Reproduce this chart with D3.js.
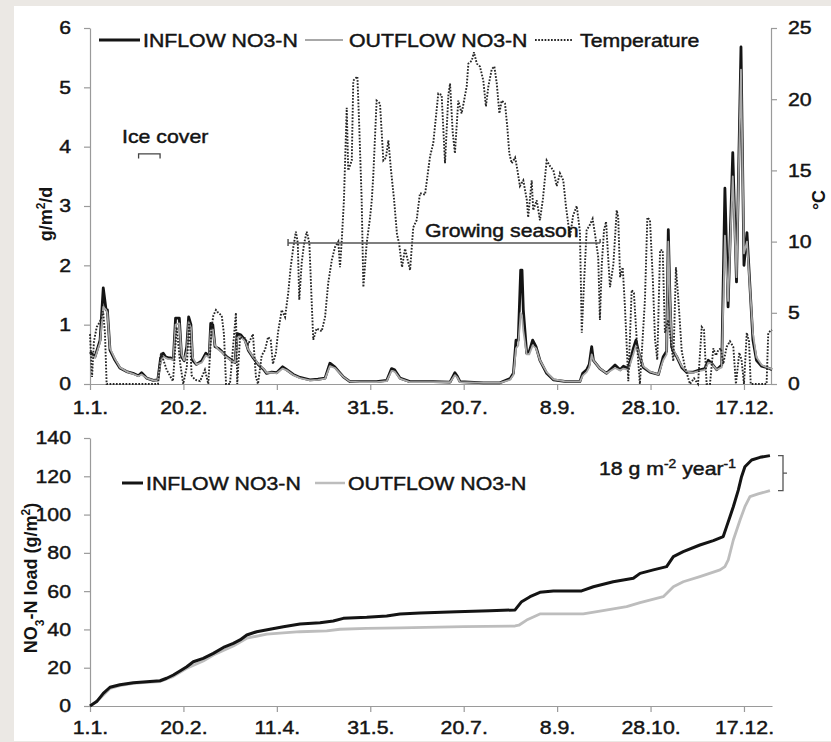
<!DOCTYPE html>
<html>
<head>
<meta charset="utf-8">
<script src="https://cdn.jsdelivr.net/npm/d3@7"></script>
<style>
  html, body { margin: 0; padding: 0; background: #ebe8e4; }
  svg { display: block; font-family: "Liberation Sans", Arial, sans-serif; }
</style>
</head>
<body>
<svg id="chart" width="831" height="742"></svg>
<script>
// ---- x-axis ticks (day of year, 50-day steps) ----
const tickDays = [0, 50, 100, 150, 200, 250, 300, 350];
const tickLabels = ["1.1.", "20.2.", "11.4.", "31.5.", "20.7.", "8.9.", "28.10.", "17.12."];

// ---- daily NO3-N flux, g/m2/d (day of year) ----
const flowDays = [0,2.7,5.4,7.1,8.6,9.3,10.7,13.4,16.0,19.6,
  23.0,25.9,27.6,30.3,33.9,36.3,37.8,39.2,40.4,41.9,
  43.2,44.6,45.8,47.8,49.0,50.4,51.8,52.8,54.0,54.9,
  57.0,59.8,62.0,63.8,64.6,65.7,66.9,68.7,70.5,73.1,
  75.8,77.6,78.8,80.6,83.0,84.7,87.4,90.0,92.8,94.5,
  97.2,99.9,103.1,105.3,108.8,112.4,117.7,122.0,125.8,128.4,
  131.0,135.6,139.1,144.5,148.0,153.4,158.8,161.4,163.0,165.9,
  171.2,183.7,192.7,195.3,196.6,198.0,210.5,219.4,224.8,226.6,
  228.0,229.2,230.5,231.2,231.9,233.7,235.1,236.9,238.7,240.8,
  244.4,248.0,255.1,262.2,263.7,265.8,267.2,268.5,269.4,272.9,
  276.5,281.0,283.7,285.5,288.1,290.8,292.2,293.5,296.1,299.7,
  304.2,306.8,308.6,309.5,310.4,311.3,312.2,314.0,316.7,319.3,
  322.9,326.4,329.1,330.9,332.7,335.4,338.1,339.8,341.5,344.0,
  346.0,348.4,350.0,351.6,354.8,356.7,359.5,363.0,365];
const inflowDaily = [0.54,0.46,0.74,1.62,1.25,1.25,0.57,0.40,0.27,0.21,
  0.18,0.14,0.19,0.10,0.06,0.07,0.44,0.52,0.46,0.44,
  0.44,0.41,1.11,1.11,0.46,0.39,0.63,1.13,1.00,0.40,
  0.33,0.39,0.52,0.46,1.02,1.00,0.63,0.60,0.55,0.46,
  0.40,0.36,0.85,0.83,0.74,0.57,0.44,0.33,0.25,0.18,
  0.20,0.19,0.29,0.24,0.16,0.11,0.07,0.08,0.10,0.35,
  0.29,0.12,0.04,0.04,0.04,0.04,0.06,0.26,0.24,0.10,
  0.04,0.04,0.03,0.19,0.13,0.04,0.02,0.02,0.09,0.18,
  0.74,0.74,1.92,1.92,1.25,0.52,0.55,0.74,0.63,0.40,
  0.18,0.07,0.04,0.04,0.18,0.24,0.33,0.63,0.40,0.26,
  0.18,0.32,0.24,0.30,0.26,0.60,0.74,0.55,0.28,0.20,
  0.16,0.46,0.55,2.60,1.42,0.63,0.55,0.46,0.28,0.20,
  0.20,0.24,0.26,0.40,0.35,0.24,0.32,3.30,1.30,3.90,
  1.72,5.68,2.00,2.55,0.74,0.40,0.30,0.27,0.24];
const outflowDaily = [0.50,0.44,0.70,1.30,1.25,1.20,0.60,0.42,0.28,0.21,
  0.17,0.13,0.16,0.10,0.06,0.06,0.38,0.47,0.44,0.42,
  0.42,0.40,1.00,1.02,0.50,0.40,0.55,1.05,0.95,0.45,
  0.33,0.36,0.48,0.45,0.90,0.92,0.65,0.58,0.54,0.45,
  0.39,0.36,0.78,0.80,0.72,0.58,0.45,0.34,0.26,0.19,
  0.19,0.18,0.26,0.23,0.15,0.10,0.06,0.07,0.09,0.30,
  0.27,0.12,0.04,0.03,0.03,0.03,0.05,0.22,0.21,0.09,
  0.03,0.03,0.03,0.15,0.11,0.03,0.02,0.02,0.07,0.15,
  0.60,0.65,1.20,1.15,0.90,0.50,0.50,0.65,0.60,0.40,
  0.20,0.08,0.04,0.04,0.14,0.20,0.28,0.50,0.40,0.26,
  0.18,0.27,0.23,0.26,0.24,0.50,0.65,0.55,0.30,0.21,
  0.16,0.40,0.50,2.40,1.40,0.70,0.58,0.47,0.30,0.21,
  0.19,0.22,0.24,0.36,0.34,0.24,0.28,2.50,1.40,3.50,
  1.80,5.30,2.20,2.40,0.85,0.45,0.32,0.27,0.25];

// ---- water temperature, degrees C ----
const tempDays = [0,1.1,2.1,3.6,5.4,7.0,8.0,8.9,10.7,36.4,
  38.0,41.0,44.4,46.4,48.2,49.9,51.8,53.1,54.4,56.2,
  58.9,61.5,63.3,65.1,66.0,67.4,68.7,70.5,71.7,72.8,
  74.9,78.1,78.8,80.3,83.0,84.7,87.2,88.8,89.9,91.9,
  93.7,95.3,96.7,97.9,99.5,100.6,102.6,104.4,106.1,107.4,
  108.8,110.2,111.2,112.0,113.3,114.5,116.0,117.4,118.6,119.5,
  121.3,124.0,125.8,127.5,129.4,131.1,132.9,133.8,134.7,135.9,
  137.4,138.2,140.1,140.9,143.1,144.1,145.4,146.3,148.1,149.9,
  150.8,151.6,153.4,155.2,157.0,158.4,159.7,161.1,162.7,164.3,
  165.4,167.0,168.6,171.3,173.0,174.8,176.6,179.3,182.0,183.7,
  186.4,188.2,190.0,191.8,192.7,194.1,195.3,197.1,198.9,200.2,
  201.6,202.5,204.3,205.5,207.0,208.7,210.5,211.9,213.2,215.0,
  216.4,217.7,219.1,220.3,222.1,223.3,224.4,225.7,227.5,228.4,
  230.1,231.9,233.8,234.5,236.4,237.2,239.1,240.8,242.4,244.4,
  246.2,248.0,249.8,251.5,253.3,254.7,256.9,258.5,260.5,262.2,
  263.2,264.4,265.8,267.6,269.0,270.3,272.0,272.9,273.9,275.1,
  276.2,277.4,278.3,280.1,281.9,282.7,283.7,285.1,286.3,288.1,
  289.9,291.1,292.6,294.3,297.0,298.3,299.7,301.2,302.4,303.6,
  305.1,306.5,307.7,309.5,310.8,312.2,313.6,314.9,316.7,318.4,
  321.1,323.3,325.4,327.4,328.6,330.0,331.8,333.6,335.0,336.3,
  337.7,338.9,340.7,342.5,344.3,345.7,347.5,348.7,350.0,351.5,
  352.7,353.6,362.1,363.0,365];
const tempValues = [3.5,0.5,3.0,4.0,4.4,5.1,3.6,0,0,0,
  2.2,1.0,0.2,4.0,1.5,0,1.2,4.4,0.6,0.3,
  0.2,1.0,0,4.0,4.8,5.2,5.0,4.8,3.5,0,
  0,5.0,0,3.3,3.2,2.8,3.5,0.5,0,2.0,
  2.4,3.3,3.1,1.4,2.2,3.6,5.2,4.7,6.4,8.2,
  9.6,10.7,9.9,5.9,8.5,9.8,10.7,9.9,5.9,3.1,
  3.9,3.7,4.7,7.1,8.7,9.6,10.0,8.2,10.0,12.9,
  19.4,15.0,15.7,21.3,21.6,18.1,12.9,6.8,9.9,11.7,
  12.9,14.6,19.9,19.7,15.7,15.9,17.1,15.0,13.0,10.5,
  9.9,8.2,9.5,8.0,11.0,11.5,13.4,13.3,16.0,16.9,
  20.4,20.3,15.5,20.3,21.1,17.7,16.2,19.9,19.0,19.9,
  20.9,22.5,22.7,23.3,22.5,22.3,21.3,19.5,20.9,22.1,
  22.3,21.1,19.0,19.9,19.7,18.1,16.2,15.5,15.9,15.3,
  13.9,14.3,12.9,11.7,14.3,12.2,12.9,11.5,13.0,15.7,
  15.3,15.0,13.9,14.8,14.3,12.5,10.3,11.8,12.5,10.7,
  3.6,7.1,10.8,11.2,11.6,10.5,8.9,4.5,8.4,10.8,
  11.4,8.7,6.8,8.4,12.2,11.7,7.5,8.2,5.4,0.2,
  6.6,6.4,3.1,0,5.9,11.7,11.5,7.4,3.1,1.7,
  9.4,9.4,3.6,4.5,3.1,1.6,8.2,5.9,2.3,1.2,
  0,0.4,0,4.0,3.8,0,0,2.5,2.0,2.4,
  2.5,1.4,2.6,3.0,2.6,0,2.2,1.7,0,3.6,
  3.0,0,0,3.6,3.8];

// ---- cumulative NO3-N load, g/m2 ----
const inLoadDays = [0,3.6,7.1,10.7,16,23.2,30.3,37.5,41,44.6,
  49,51.8,55.3,60.6,66,71.4,76.7,80.3,83.9,89.2,
  96.3,103.5,112.4,123.1,130.2,135.6,148.1,158.8,165.9,176.6,
  196.2,214,227.5,231,235.5,240.8,248,263.1,269.4,280,
  290.8,294.4,301.5,308.6,312.2,317.5,326.4,333.6,338.9,340.7,
  342.5,344.3,347,348.7,350.5,354.1,358.6,363.9];
const inLoad = [0,2.3,6.6,9.8,11.1,12.2,12.7,13.2,14.5,16.2,
  18.8,20.5,23.1,24.9,27.5,30.6,32.7,34.5,37.1,38.8,
  40.1,41.4,42.8,43.5,44.4,45.8,46.3,47.0,48.1,48.6,
  49.3,49.7,50.2,54.5,57.1,59.4,60.1,60.1,62.3,64.9,
  66.7,69.3,71.1,72.8,78.0,80.6,84.1,86.4,88.5,93.7,
  98.9,104.1,112.9,119.8,125.0,128.5,129.9,130.8];
const outLoadDays = [0,5.4,10.7,16,23.2,30.3,37.5,44.6,51.8,60.6,
  66,76.7,83.9,94.6,112.4,126.7,133.8,148.1,165.9,200,
  227.5,229.5,233.7,240.8,264,272.9,287.2,294.4,306.8,312.2,
  317.5,326.4,337.2,339.8,341.6,344.3,347.9,350.5,353.2,357.6,363.9];
const outLoad = [0,4.0,9.2,10.6,11.8,12.3,12.8,15.5,19.7,23.5,
  26.6,31.3,35.4,37.6,38.8,39.2,40.1,40.6,40.8,41.5,
  41.8,42.2,44.9,48.1,48.1,49.6,51.9,54.0,57.1,62.3,
  64.9,67.6,71.1,72.8,76.3,86.7,97.2,104.1,109.4,110.8,112.5];

// ---- annotation spans ----
const iceCover = [26, 37.5];         // days
const growingSeason = [106, 273];    // days, drawn at 10 degrees C
const growingTemp = 9.9;

// ---------------------------------------------------------------
const svg = d3.select("#chart");
svg.append("rect").attr("x", 14).attr("y", 6).attr("width", 817).attr("height", 735).attr("fill", "#ffffff");

const AXIS = "#9a9a9a", INK = "#141414";
const OUT_TOP = "#a8a8a8", OUT_BOT = "#bdbdbd";
const TEMP = "#262626";
const x = d3.scaleLinear().domain([0, 365]).range([90, 772]);
const yN = d3.scaleLinear().domain([0, 6]).range([384, 28]);
const yT = d3.scaleLinear().domain([0, 25]).range([384, 28]);
const yL = d3.scaleLinear().domain([0, 140]).range([706, 438]);

function styleAxis(g) {
  g.attr("font-family", null).attr("font-size", null);
  g.select(".domain").attr("stroke", AXIS).attr("stroke-width", 1.2);
  g.selectAll(".tick line").attr("stroke", AXIS).attr("stroke-width", 1.2);
  g.selectAll(".tick text").attr("fill", INK).attr("class", "lbl").style("font-size", "18.5px");
}

// ---------------- upper panel ----------------
svg.append("g").attr("transform", "translate(0,384)")
  .call(d3.axisBottom(x).tickValues(tickDays).tickFormat((d, i) => tickLabels[i])
    .tickSize(6).tickSizeOuter(0).tickPadding(11))
  .call(styleAxis);
svg.append("g").attr("transform", "translate(90,0)")
  .call(d3.axisLeft(yN).tickValues([0, 1, 2, 3, 4, 5, 6]).tickFormat(d3.format("d"))
    .tickSize(6).tickSizeOuter(0).tickPadding(13))
  .call(styleAxis);
svg.append("g").attr("transform", "translate(771,0)")
  .call(d3.axisRight(yT).tickValues([0, 5, 10, 15, 20, 25]).tickFormat(d3.format("d"))
    .tickSize(6).tickSizeOuter(0).tickPadding(11))
  .call(styleAxis);

const flowIn = d3.zip(flowDays, inflowDaily);
const flowOut = d3.zip(flowDays, outflowDaily);
const temps = d3.zip(tempDays, tempValues);

const lineN = d3.line().x(d => x(d[0])).y(d => yN(d[1]));
const lineT = d3.line().x(d => x(d[0])).y(d => yT(d[1]));

svg.append("path").datum(flowIn).attr("d", lineN).attr("fill", "none")
  .attr("stroke", INK).attr("stroke-width", 2.8).attr("stroke-linejoin", "round");
svg.append("path").datum(flowOut).attr("d", lineN).attr("fill", "none")
  .attr("stroke", OUT_TOP).attr("stroke-width", 1.8).attr("stroke-linejoin", "round");
svg.append("path").datum(temps).attr("d", lineT).attr("fill", "none")
  .attr("stroke", TEMP).attr("stroke-width", 1.9).attr("stroke-dasharray", "1.7,1.5");

// legend, upper panel
const legTop = svg.append("g");
legTop.append("line").attr("x1", 99).attr("x2", 140).attr("y1", 40).attr("y2", 40)
  .attr("stroke", INK).attr("stroke-width", 3);
legTop.append("text").attr("x", 143).attr("y", 40).attr("dy", "0.36em").text("INFLOW NO3-N");
legTop.append("line").attr("x1", 305).attr("x2", 343).attr("y1", 40).attr("y2", 40)
  .attr("stroke", OUT_TOP).attr("stroke-width", 2);
legTop.append("text").attr("x", 349).attr("y", 40).attr("dy", "0.36em").text("OUTFLOW NO3-N");
legTop.append("line").attr("x1", 535).attr("x2", 573).attr("y1", 40).attr("y2", 40)
  .attr("stroke", TEMP).attr("stroke-width", 1.9).attr("stroke-dasharray", "1.7,1.5");
legTop.append("text").attr("x", 580).attr("y", 40).attr("dy", "0.36em").text("Temperature");
legTop.selectAll("text").attr("fill", INK).attr("class", "lbl").style("font-size", "18.5px");

// ice cover bracket
svg.append("text").attr("class", "lbl").attr("x", 122).attr("y", 136).attr("dy", "0.36em")
  .attr("fill", INK).style("font-size", "18.5px").text("Ice cover");
svg.append("path")
  .attr("d", `M${x(iceCover[0])},${yN(3.8)}V${yN(3.88)}H${x(iceCover[1])}V${yN(3.8)}`)
  .attr("fill", "none").attr("stroke", "#444").attr("stroke-width", 1.3);

// growing season bar
const gy = yT(growingTemp);
svg.append("path")
  .attr("d", `M${x(growingSeason[0])},${gy - 4}V${gy + 3}M${x(growingSeason[0])},${gy}H${x(growingSeason[1])}M${x(growingSeason[1])},${gy - 4}V${gy}`)
  .attr("fill", "none").attr("stroke", "#555").attr("stroke-width", 1.5);
svg.append("text").attr("class", "lbl").attr("x", 425).attr("y", 230).attr("dy", "0.36em")
  .attr("fill", INK).style("font-size", "18.5px").text("Growing season");

// axis titles, upper panel
svg.append("text").attr("transform", "translate(52,214) rotate(-90)")
  .attr("text-anchor", "middle").attr("font-weight", "bold").attr("fill", INK)
  .style("font-size", "18px")
  .call(t => {
    t.append("tspan").text("g/m");
    t.append("tspan").attr("baseline-shift", "super").style("font-size", "12px").text("2");
    t.append("tspan").text("/d");
  });
svg.append("text").attr("transform", "translate(825,200) rotate(-90)")
  .attr("text-anchor", "middle").attr("font-weight", "bold").attr("fill", INK)
  .style("font-size", "18px").text("°C");

// ---------------- lower panel ----------------
svg.append("g").attr("transform", "translate(0,706)")
  .call(d3.axisBottom(x).tickValues(tickDays).tickFormat((d, i) => tickLabels[i])
    .tickSize(6).tickSizeOuter(0).tickPadding(9))
  .call(styleAxis);
svg.append("g").attr("transform", "translate(90,0)")
  .call(d3.axisLeft(yL).tickValues(d3.range(0, 141, 20)).tickFormat(d3.format("d"))
    .tickSize(6).tickSizeOuter(0).tickPadding(13))
  .call(styleAxis);

const lineL = d3.line().x(d => x(d[0])).y(d => yL(d[1]));
svg.append("path").datum(d3.zip(outLoadDays, outLoad)).attr("d", lineL).attr("fill", "none")
  .attr("stroke", OUT_BOT).attr("stroke-width", 2.8).attr("stroke-linejoin", "round");
svg.append("path").datum(d3.zip(inLoadDays, inLoad)).attr("d", lineL).attr("fill", "none")
  .attr("stroke", INK).attr("stroke-width", 3).attr("stroke-linejoin", "round");

// legend, lower panel
const legBot = svg.append("g");
legBot.append("line").attr("x1", 122).attr("x2", 143).attr("y1", 483).attr("y2", 483)
  .attr("stroke", INK).attr("stroke-width", 3);
legBot.append("text").attr("x", 146).attr("y", 483).attr("dy", "0.36em").text("INFLOW NO3-N");
legBot.append("line").attr("x1", 315).attr("x2", 345).attr("y1", 483).attr("y2", 483)
  .attr("stroke", OUT_BOT).attr("stroke-width", 2.5);
legBot.append("text").attr("x", 348).attr("y", 483).attr("dy", "0.36em").text("OUTFLOW NO3-N");
legBot.selectAll("text").attr("fill", INK).attr("class", "lbl").style("font-size", "18.5px");

// retention bracket between the two year-end totals
const inEnd = inLoad[inLoad.length - 1], outEnd = outLoad[outLoad.length - 1];
const bx = 783;
svg.append("path")
  .attr("d", `M${bx - 5},${yL(inEnd)}H${bx}V${yL(outEnd)}H${bx - 5}M${bx},${yL((inEnd + outEnd) / 2)}H${bx + 4}`)
  .attr("fill", "none").attr("stroke", "#555").attr("stroke-width", 1.3);
svg.append("text").attr("class", "lbl").attr("x", 599).attr("y", 468).attr("dy", "0.36em")
  .attr("fill", INK).style("font-size", "18.5px")
  .call(t => {
    t.append("tspan").text("18 g m");
    t.append("tspan").attr("baseline-shift", "super").style("font-size", "12px").text("-2");
    t.append("tspan").text(" year");
    t.append("tspan").attr("baseline-shift", "super").style("font-size", "12px").text("-1");
  });

// axis title, lower panel
svg.append("text").attr("class", "vt").attr("transform", "translate(37,578) rotate(-90)")
  .attr("text-anchor", "middle").attr("font-weight", "bold").attr("fill", INK)
  .style("font-size", "18px")
  .call(t => {
    t.append("tspan").text("NO");
    t.append("tspan").attr("baseline-shift", "sub").style("font-size", "12px").text("3");
    t.append("tspan").text("-N load (g/m");
    t.append("tspan").attr("baseline-shift", "super").style("font-size", "12px").text("2");
    t.append("tspan").text(")");
  });

// horizontal labels: slightly wider set and a touch heavier stroke
svg.selectAll("text.lbl").each(function () {
  const w = this.getComputedTextLength();
  if (w > 0) {
    this.setAttribute("textLength", (w * 1.15).toFixed(1));
    this.setAttribute("lengthAdjust", "spacingAndGlyphs");
  }
}).attr("stroke", INK).attr("stroke-width", 0.45);
</script>
</body>
</html>
